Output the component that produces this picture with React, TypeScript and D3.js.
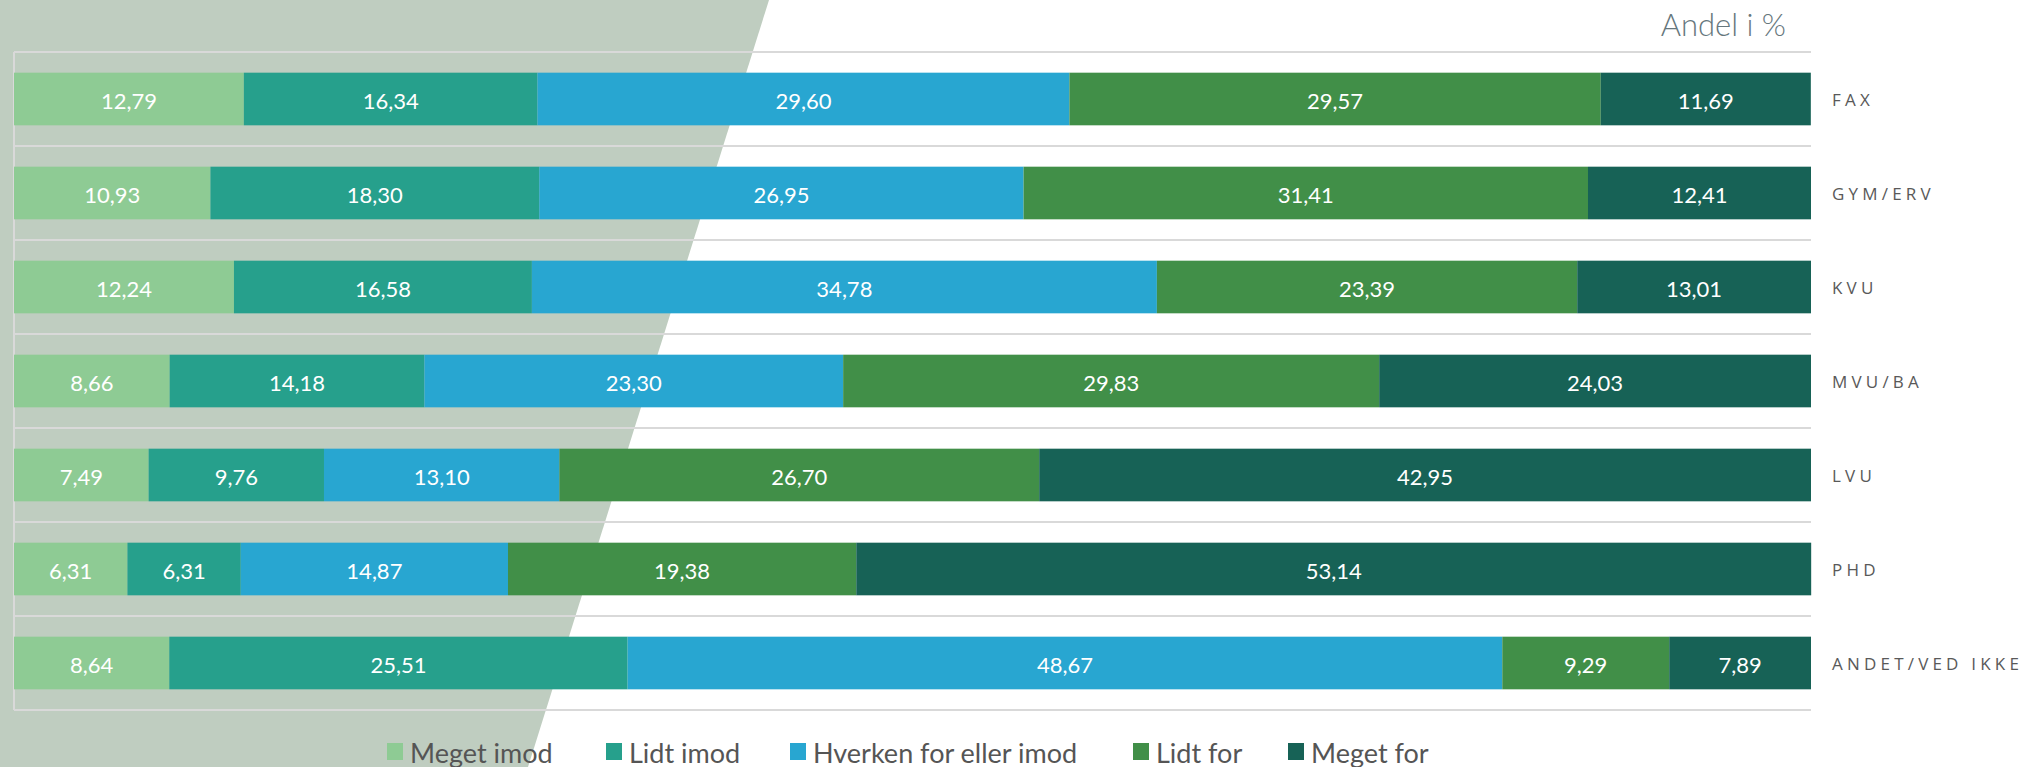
import React from "react";
import * as d3 from "d3";

const categories = ["FAX", "GYM/ERV", "KVU", "MVU/BA", "LVU", "PHD", "ANDET/VED IKKE"];
const seriesNames = ["Meget imod", "Lidt imod", "Hverken for eller imod", "Lidt for", "Meget for"];
const megetImod = [12.79, 10.93, 12.24, 8.66, 7.49, 6.31, 8.64];
const lidtImod = [16.34, 18.3, 16.58, 14.18, 9.76, 6.31, 25.51];
const hverken = [29.6, 26.95, 34.78, 23.3, 13.1, 14.87, 48.67];
const lidtFor = [29.57, 31.41, 23.39, 29.83, 26.7, 19.38, 9.29];
const megetFor = [11.69, 12.41, 13.01, 24.03, 42.95, 53.14, 7.89];
const colors = ["#8ecb94", "#26a08c", "#28a6d1", "#418f48", "#176256"];
const title = "Andel i %";

const W = 2044;
const H = 767;
const left = 14;
const right = 1811;
const top = 52;
const bottom = 710;

export default function App() {
  const series = [megetImod, lidtImod, hverken, lidtFor, megetFor];
  const rows = categories.map((c, i) => {
    const o: any = { cat: c };
    seriesNames.forEach((s, j) => (o[s] = series[j][i]));
    return o;
  });
  const stack = d3.stack<any>().keys(seriesNames)(rows);
  const x = d3.scaleLinear().domain([0, 100]).range([left, right]);
  const y = d3.scaleBand().domain(categories).range([top, bottom]).paddingInner(0.44).paddingOuter(0.22);
  const gridYs = d3.range(categories.length + 1).map((i) => top + i * ((bottom - top) / categories.length));
  const fmt = (v: number) => v.toFixed(2).replace(".", ",");

  const legendX = [387, 606, 790, 1133, 1288];

  return (
    <svg width={W} height={H} style={{ position: "absolute", left: 0, top: 0, background: "#fff" }}>
      <polygon points={`0,0 769,0 528,${H} 0,${H}`} fill="#bfcdc0" />
      <text x={1786} y={24} textAnchor="end" dominantBaseline="central" fontFamily="Lato" fontWeight={300} fontSize={31} fill="#66777d">
        {title}
      </text>
      {gridYs.map((gy, i) => (
        <line key={i} x1={left} x2={right} y1={gy} y2={gy} stroke="#d9d9d9" strokeWidth={2} />
      ))}
      <line x1={left} x2={left} y1={top} y2={bottom} stroke="#d9d9d9" strokeWidth={2} />
      {stack.map((layer, j) => (
        <g key={j}>
          {layer.map((d, i) => {
            const x0 = x(d[0]);
            const x1 = x(d[1]);
            const by = y(categories[i])!;
            return (
              <g key={i}>
                <rect x={x0} y={by} width={x1 - x0} height={y.bandwidth()} fill={colors[j]} />
                <text
                  x={(x0 + x1) / 2}
                  y={by + y.bandwidth() / 2 + 1}
                  textAnchor="middle"
                  dominantBaseline="central"
                  fontFamily="Lato"
                  fontSize={22}
                  fill="#fff"
                >
                  {fmt(series[j][i])}
                </text>
              </g>
            );
          })}
        </g>
      ))}
      {categories.map((c) => (
        <text
          key={c}
          x={1832}
          y={y(c)! + y.bandwidth() / 2}
          dominantBaseline="central"
          fontFamily="Open Sans"
          fontSize={17}
          letterSpacing={4.2}
          fill="#595959"
        >
          {c}
        </text>
      ))}
      {seriesNames.map((s, j) => (
        <g key={s}>
          <rect x={legendX[j]} y={743} width={16} height={17} fill={colors[j]} />
          <text x={legendX[j] + 23} y={752} dominantBaseline="central" fontFamily="Lato" fontSize={27} fill="#555555">
            {s}
          </text>
        </g>
      ))}
    </svg>
  );
}
